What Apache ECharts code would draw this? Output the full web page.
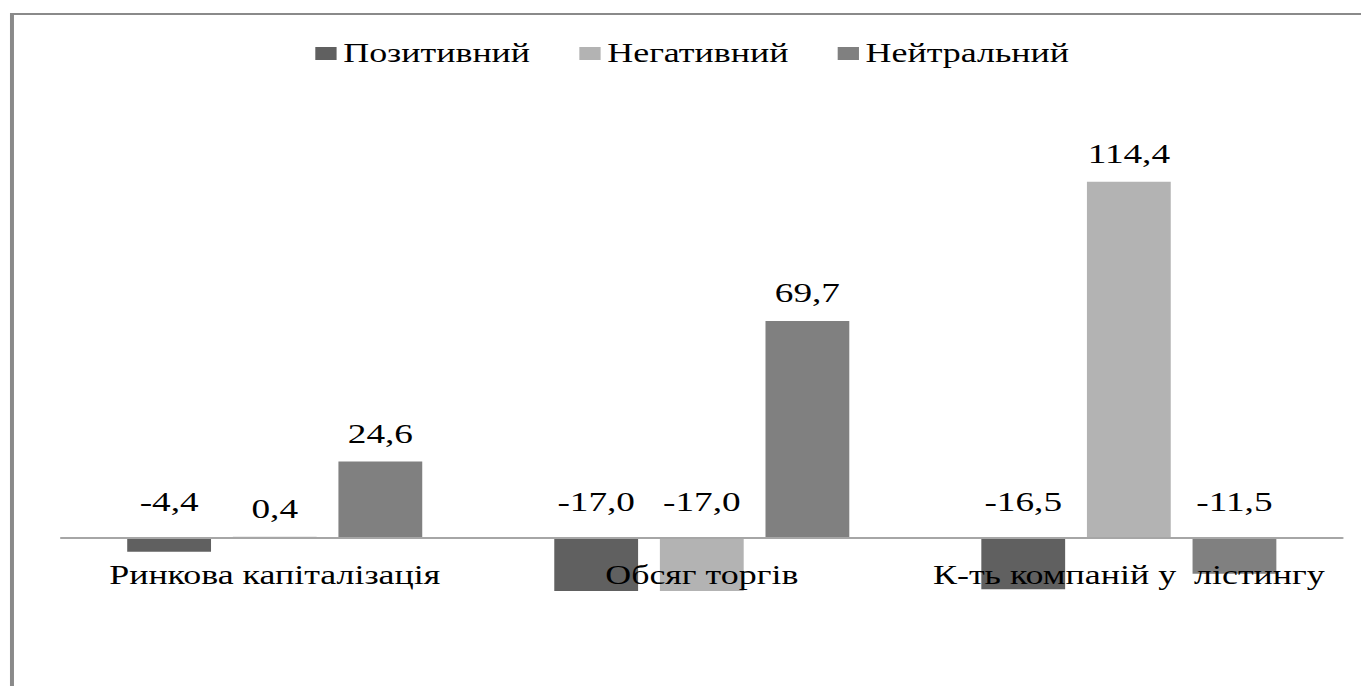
<!DOCTYPE html>
<html>
<head>
<meta charset="utf-8">
<script src="https://cdn.jsdelivr.net/npm/echarts@6/dist/echarts.min.js"></script>
<style>
  html, body { margin: 0; padding: 0; overflow: hidden; background: #fff; }
  #wrap { width: 1361px; height: 686px; overflow: hidden; }
  #chart { width: 1023px; height: 686px; transform: scaleX(1.3304); transform-origin: 0 0; }
</style>
</head>
<body>
<div id="wrap"><div id="chart"></div></div>
<script>
const categories = ['Ринкова капіталізація', 'Обсяг торгів', 'К-ть компаній у  лістингу'];
const seriesNames = ['Позитивний', 'Негативний', 'Нейтральний'];
const positiveValues = [-4.4, -17.0, -16.5];
const negativeValues = [0.4, -17.0, 114.4];
const neutralValues = [24.6, 69.7, -11.5];
const seriesColors = ['#606060', '#b3b3b3', '#808080'];

const FONT = "'Liberation Serif', 'Times New Roman', serif";
const chart = echarts.init(document.getElementById('chart'), null, { renderer: 'svg' });

function makeSeries(name, values, color) {
  return {
    name: name,
    type: 'bar',
    xAxisIndex: 0,
    yAxisIndex: 0,
    barWidth: 63,
    barGap: '26%',
    itemStyle: { color: color },
    data: values.map(v => ({
      value: v,
      label: { distance: v < 0 ? 22 : 14 }
    })),
    label: {
      show: true,
      position: 'top',
      fontFamily: FONT,
      fontSize: 28,
      color: '#000',
      formatter: p => p.value.toFixed(1).replace('.', ',')
    }
  };
}

chart.setOption({
  animation: false,
  backgroundColor: '#fff',
  graphic: [
    { type: 'line', shape: { x1: 9, y1: 14, x2: 1030, y2: 14 }, style: { stroke: '#8a8a8a', lineWidth: 2 } },
    { type: 'line', shape: { x1: 9, y1: 13, x2: 9, y2: 700 }, style: { stroke: '#8a8a8a', lineWidth: 3 } }
  ],
  legend: {
    top: 35,
    left: 232,
    itemWidth: 16,
    itemHeight: 13,
    itemGap: 37,
    icon: 'rect',
    textStyle: { fontFamily: FONT, fontSize: 27, color: '#000' },
    data: seriesNames
  },
  grid: [
    { left: 46, right: 14, top: 164.4, bottom: 23.5, containLabel: false, outerBoundsMode: 'none' },
    { left: 46, right: 14, top: 400, bottom: 148, containLabel: false, outerBoundsMode: 'none' }
  ],
  xAxis: [
    {
      type: 'category',
      gridIndex: 0,
      data: categories,
      axisLine: { show: true, onZero: true, lineStyle: { color: '#a6a6a6', width: 2 } },
      axisTick: { show: false },
      axisLabel: { show: false },
      z: 5
    },
    {
      type: 'category',
      gridIndex: 1,
      data: categories,
      axisLine: { show: false },
      axisTick: { show: false },
      axisLabel: { fontFamily: FONT, fontSize: 27, color: '#000', margin: 24, interval: 0 },
      z: 6
    }
  ],
  yAxis: [
    { type: 'value', gridIndex: 0, min: -40, max: 120, show: false, splitLine: { show: false } },
    { type: 'value', gridIndex: 1, min: 0, max: 1, show: false, splitLine: { show: false } }
  ],
  series: [
    makeSeries(seriesNames[0], positiveValues, seriesColors[0]),
    makeSeries(seriesNames[1], negativeValues, seriesColors[1]),
    makeSeries(seriesNames[2], neutralValues, seriesColors[2])
  ]
});
</script>
</body>
</html>
